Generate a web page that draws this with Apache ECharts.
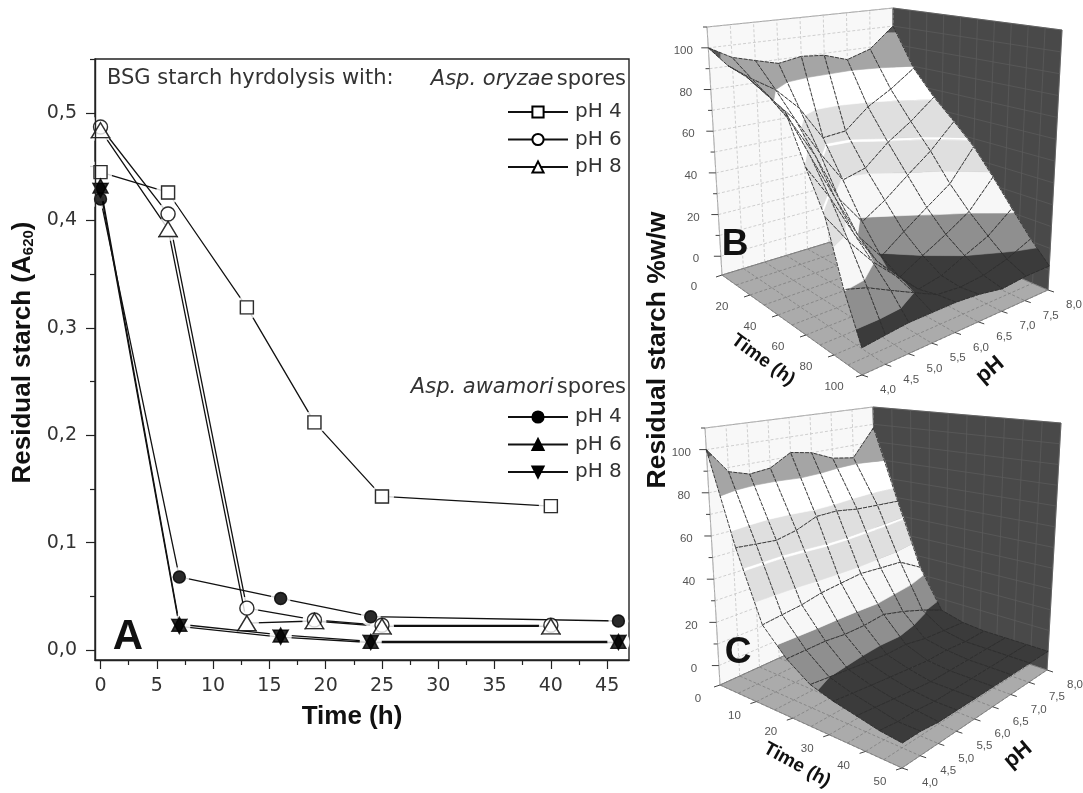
<!DOCTYPE html>
<html><head><meta charset="utf-8">
<style>html,body{margin:0;padding:0;background:#fff}#c{width:1083px;height:793px}</style>
<script src="https://cdn.jsdelivr.net/npm/echarts@6/dist/echarts.min.js"></script>
</head><body><div id="c"></div>
<script>
// ---------- Panel A data ----------
const xMajor = [0,5,10,15,20,25,30,35,40,45];
const xMinor = [2.5,7.5,12.5,17.5,22.5,27.5,32.5,37.5,42.5];
const yMajor = [0,0.1,0.2,0.3,0.4,0.5];
const yMinor = [0.05,0.15,0.25,0.35,0.45,0.55];
const oryzaeTimeA = [0,6,13,19,25,40];
const oryzaePH4 = [0.445,0.426,0.319,0.212,0.143,0.134];
const oryzaePH6 = [0.487,0.406,0.039,0.028,0.023,0.023];
const oryzaePH8 = [0.484,0.392,0.025,0.027,0.022,0.022];
const awamoriTime = [0,7,16,24,46];
const awamoriPH4 = [0.420,0.068,0.048,0.031,0.027];
const awamoriPH6 = [0.432,0.024,0.014,0.008,0.008];
const awamoriPH8 = [0.428,0.022,0.012,0.007,0.007];

// ---------- Panels B and C data ----------
const phNodes = [4,4.5,5,5.5,6,6.5,7,7.5,8];
const timeB = [0,12.5,25,37.5,50,62.5,75,87.5,100];
const timeC = [0,6.25,12.5,18.75,25,31.25,37.5,43.75,50];
const surfaceB = [ // one row per pH node, one value per time node
 [100,95,93,89,84,64,47,21,2],
 [94,87,81,74,62,48,33,18,3],
 [91,80,69,56,41,29,21,13,4],
 [88,69,51,33,20,13,11,8,4],
 [90,52,35,19,7,2,1,3,4],
 [89,53,38,26,15,8,3,2,3],
 [85,63,48,35,23,14,8,3,1],
 [89,70,56,44,31,21,13,6,2],
 [100,79,66,56,46,34,22,11,2]
];
const surfaceC = [
 [100,58,27,16,9,6,4,2,1],
 [88,57,28,16,8,5,3,1,1],
 [85,56,29,16,7,4,2,1,0],
 [86,58,31,15,6,3,1,0,0],
 [92,62,32,15,5,2,0,0,0],
 [90,62,33,16,5,1,0,0,0],
 [85,60,32,13,3,1,0,0,0],
 [83,59,31,9,2,0,0,0,0],
 [98,58,24,4,1,0,0,0,0]
];
const zTicks = [0,20,40,60,80,100];
const timeTicksB = [0,20,40,60,80,100];
const timeTicksC = [0,10,20,30,40,50];
const phTicks = [4,4.5,5,5.5,6,6.5,7,7.5,8];
const zRange = [-9,110];
// contour bands: [low, high, grey level]
const bands = [
 [-50,8,'#3b3b3b'],[8,20.5,'#8f8f8f'],[20.5,36,'#f7f7f7'],[36,48.6,'#dfdfdf'],
 [48.6,49.6,'#ffffff'],[49.6,65,'#dfdfdf'],[65,80,'#ffffff'],[80,97,'#a5a5a5'],[97,200,'#555555']
];

const SANS = '"Liberation Sans", Arial, sans-serif';
const THIN = '"DejaVu Sans", sans-serif';
const INK = '#333';

// ---------- 3D box helper ----------
function mix(p,q,s){return [p[0]+(q[0]-p[0])*s,p[1]+(q[1]-p[1])*s];}
function boxProject(box,u,v,c){
  const low = mix(mix(box.L,box.F,u),mix(box.K,box.R,u),v);
  const high = mix(mix(box.Lt,box.Ft,u),mix(box.Kt,box.Rt,u),v);
  return mix(low,high,c);
}
function zFrac(z){return (z-zRange[0])/(zRange[1]-zRange[0]);}
function clipBand(poly,lo,hi){
  function cut(list,keep,level){
    const out=[];
    for(let i=0;i<list.length;i++){
      const p=list[i],q=list[(i+1)%list.length];
      const pk=keep(p[2]),qk=keep(q[2]);
      if(pk)out.push(p);
      if(pk!==qk){const s=(level-p[2])/(q[2]-p[2]);out.push([p[0]+(q[0]-p[0])*s,p[1]+(q[1]-p[1])*s,level]);}
    }
    return out;
  }
  let r=cut(poly,z=>z>=lo,lo);
  if(r.length)r=cut(r,z=>z<=hi,hi);
  return r;
}
function panel(cfg){
  const times=cfg.times, Z=cfg.Z, box=cfg.box;
  const tMax=times[times.length-1], pMin=phNodes[0], pMax=phNodes[phNodes.length-1];
  const frac=(api)=>{
    const o=api.coord([0,pMin]), e=api.coord([tMax,pMax]);
    return (t,p)=>{const q=api.coord([t,p]);return [(q[0]-o[0])/(e[0]-o[0]),(q[1]-o[1])/(e[1]-o[1])];};
  };
  const cellData=[];
  for(let i=0;i<times.length-1;i++)for(let j=phNodes.length-2;j>=0;j--)cellData.push([times[i],phNodes[j],i,j]);
  const walls={
    type:'custom',xAxisIndex:cfg.axis,yAxisIndex:cfg.axis,silent:true,animation:false,z:5,
    data:[[0,pMin]],
    renderItem(params,api){
      const f=frac(api), kids=[];
      const P=(t,p,z)=>{const q=f(t,p);return boxProject(box,q[0],q[1],zFrac(z));};
      const zb=zRange[0], zt=zRange[1];
      const poly=(pts,fill)=>kids.push({type:'polygon',shape:{points:pts},style:{fill,stroke:'#666',lineWidth:0.6}});
      const line=(a,b,stroke,w,dash)=>kids.push({type:'line',shape:{x1:a[0],y1:a[1],x2:b[0],y2:b[1]},style:{stroke,lineWidth:w,lineDash:dash||null}});
      poly([P(0,pMin,zb),P(0,pMax,zb),P(0,pMax,zt),P(0,pMin,zt)],'#f8f8f8');
      poly([P(0,pMax,zb),P(tMax,pMax,zb),P(tMax,pMax,zt),P(0,pMax,zt)],'#494949');
      poly([P(0,pMin,zb),P(tMax,pMin,zb),P(tMax,pMax,zb),P(0,pMax,zb)],'#ababab');
      for(const p of phTicks){
        line(P(0,p,zb),P(0,p,zt),'#c4c4c4',0.8,[3,2]);
        line(P(0,p,zb),P(tMax,p,zb),'#7f7f7f',0.8,[3,2]);
      }
      for(const t of cfg.timeTicks){
        const st=cfg.timeTicks[1]/2;
        line(P(t,pMax,zb),P(t,pMax,zt),'#5a5a5a',0.8);
        line(P(t,pMin,zb),P(t,pMax,zb),'#7f7f7f',0.8,[3,2]);
        if(t+st<=tMax){line(P(t+st,pMax,zb),P(t+st,pMax,zt),'#5a5a5a',0.8);line(P(t+st,pMin,zb),P(t+st,pMax,zb),'#7f7f7f',0.8,[3,2]);}
      }
      for(let z=0;z<=110;z+=10){
        if(zFrac(z)>1)continue;
        line(P(0,pMin,z),P(0,pMax,z),'#c4c4c4',0.8,[3,2]);
        line(P(0,pMax,z),P(tMax,pMax,z),'#5a5a5a',0.8);
        const a=P(0,pMin,z);
        line(a,[a[0]-(z%20===0?7:4),a[1]],'#444',1);
      }
      const label=(text,pos)=>kids.push({type:'text',style:{text,x:pos[0],y:pos[1],font:'11.5px '+SANS,fill:'#555',align:'center',verticalAlign:'middle'}});
      for(const z of zTicks){const a=P(0,pMin,z);label(String(z),[a[0]-25,a[1]+3]);}
      for(const t of cfg.timeTicks){
        const a=P(t,pMin,zb);
        line(a,[a[0]-6,a[1]+2],'#444',1);
        label(String(t),[a[0]+cfg.timeOffset[0],a[1]+cfg.timeOffset[1]]);
      }
      for(const p of phTicks){
        const a=P(tMax,p,zb);
        line(a,[a[0]+6,a[1]+2],'#444',1);
        label(p.toFixed(1).replace('.',','),[a[0]+cfg.phOffset[0],a[1]+cfg.phOffset[1]]);
      }
      return {type:'group',children:kids};
    }
  };
  const cells={
    type:'custom',xAxisIndex:cfg.axis,yAxisIndex:cfg.axis,silent:true,animation:false,z:6,
    data:cellData,
    renderItem(params,api){
      const f=frac(api), i=api.value(2), j=api.value(3), kids=[];
      const corner=(a,b)=>{const q=f(times[a],phNodes[b]);return [q[0],q[1],Z[b][a]];};
      const quad=[corner(i,j),corner(i+1,j),corner(i+1,j+1),corner(i,j+1)];
      const toScreen=q=>boxProject(box,q[0],q[1],zFrac(q[2]));
      for(const b of bands){
        const piece=clipBand(quad,b[0],b[1]);
        if(piece.length>2)kids.push({type:'polygon',shape:{points:piece.map(toScreen)},style:{fill:b[2],stroke:b[2],lineWidth:0.6}});
      }
      kids.push({type:'polygon',shape:{points:quad.map(toScreen)},style:{fill:'none',stroke:'#2e2e2e',lineWidth:0.9,lineDash:[4,1.2]}});
      return {type:'group',children:kids};
    }
  };
  return [walls,cells];
}

const boxB={L:[722,275],F:[862,375],R:[1048,290],K:[893,223],Lt:[707,27],Ft:[861,80],Rt:[1062,30],Kt:[893,8]};
const boxC={L:[720,685],F:[902,768],R:[1047,670],K:[878,613],Lt:[705,428],Ft:[906,470],Rt:[1061,423],Kt:[873,407]};

// ---------- Panel A series (line, white gap round the marker, marker) ----------
function curve(name,times,values,symbol,filled,rotate,z,size,gap){
  const pts=times.map((t,i)=>[t,values[i]]);
  const color=filled?'#000':'#fff';
  const base={xAxisIndex:0,yAxisIndex:0,animation:false,silent:true,symbol,symbolRotate:rotate,data:pts};
  return [
   Object.assign({},base,{type:'line',name,z,clip:false,symbolSize:size,showAllSymbol:true,lineStyle:{color:'#111',width:1.3},itemStyle:{color,borderColor:'#000',borderWidth:1.4}}),
   Object.assign({},base,{type:'scatter',z:z+0.1,clip:true,symbol:'circle',symbolSize:gap,itemStyle:{color:'#fff',borderWidth:0}}),
   Object.assign({},base,{type:'scatter',z:z+10,clip:false,symbolSize:size,itemStyle:{color,borderColor:'#000',borderWidth:1.4}})
  ];
}
const N1=['pH 4 Asp. oryzae','pH 6 Asp. oryzae','pH 8 Asp. oryzae'];
const N2=['pH 4 Asp. awamori','pH 6 Asp. awamori','pH 8 Asp. awamori'];
const seriesA=[].concat(
  curve(N1[0],oryzaeTimeA,oryzaePH4,'rect',false,0,2,13,24),
  curve(N1[1],oryzaeTimeA,oryzaePH6,'circle',false,0,3,14,23),
  curve(N1[2],oryzaeTimeA,oryzaePH8,'triangle',false,0,4,[18,15],24),
  curve(N2[0],awamoriTime,awamoriPH4,'circle',true,0,5,12,20),
  curve(N2[1],awamoriTime,awamoriPH6,'triangle',true,0,6,[15,14],22),
  curve(N2[2],awamoriTime,awamoriPH8,'triangle',true,180,7,[15,14],22)
);
function legendBlock(names,top){
  return {data:names,orient:'vertical',left:502,top,itemWidth:60,itemHeight:14,itemGap:7.5,selectedMode:false,
    formatter:n=>n.slice(0,4),textStyle:{fontFamily:THIN,fontSize:20,color:INK,padding:[0,0,0,2]}};
}
function hiddenAxis(min,max){return {type:'value',min,max,show:false};}

const grids=[
  {left:95,top:59,width:534,height:601,show:true,borderColor:'#222',borderWidth:1.4,backgroundColor:'transparent'},
  {left:700,top:20,width:100,height:100,show:false},
  {left:700,top:420,width:100,height:100,show:false}
];
const option={
  backgroundColor:'#fff',animation:false,
  grid:grids,
  legend:[legendBlock(N1,97),legendBlock(N2,402)],
  xAxis:[
   {type:'value',gridIndex:0,min:-0.49,max:46.94,position:'bottom',z:30,splitLine:{show:false},
    name:'Time (h)',nameLocation:'middle',nameGap:44,nameTextStyle:{fontFamily:SANS,fontWeight:'bold',fontSize:26,color:'#111',padding:[0,20,0,0]},
    axisLine:{onZero:false,lineStyle:{color:'#222',width:1.4}},
    axisTick:{length:9,inside:false,customValues:xMajor,lineStyle:{color:'#222',width:1.2}},
    axisLabel:{customValues:xMajor,fontFamily:THIN,fontSize:19,color:INK,margin:17}},
   {type:'value',gridIndex:0,min:-0.49,max:46.94,position:'bottom',splitLine:{show:false},
    axisLine:{show:false,onZero:false},axisTick:{length:5,customValues:xMinor,lineStyle:{color:'#222',width:1.2}},
    axisLabel:{show:false}},
   Object.assign(hiddenAxis(0,100),{gridIndex:1}),
   Object.assign(hiddenAxis(0,50),{gridIndex:2})
  ],
  yAxis:[
   {type:'value',gridIndex:0,min:-0.0093,max:0.5503,position:'left',z:30,splitLine:{show:false},
    name:'{m|Residual starch (A}{s|620}{m|)}',nameLocation:'middle',nameGap:59,
    nameTextStyle:{padding:[0,0,0,14],rich:{m:{fontFamily:SANS,fontWeight:'bold',fontSize:26,color:'#111'},s:{fontFamily:SANS,fontWeight:'bold',fontSize:15,color:'#111',verticalAlign:'bottom',padding:[10,0,0,0]}}},
    axisLine:{onZero:false,lineStyle:{color:'#222',width:1.4}},
    axisTick:{length:9,customValues:yMajor,lineStyle:{color:'#222',width:1.2}},
    axisLabel:{customValues:yMajor,formatter:v=>v.toFixed(1).replace('.',','),fontFamily:THIN,fontSize:19,color:INK,margin:18}},
   {type:'value',gridIndex:0,min:-0.0093,max:0.5503,position:'left',splitLine:{show:false},
    axisLine:{show:false,onZero:false},axisTick:{length:5,customValues:yMinor,lineStyle:{color:'#222',width:1.2}},
    axisLabel:{show:false}},
   Object.assign(hiddenAxis(4,8),{gridIndex:1}),
   Object.assign(hiddenAxis(4,8),{gridIndex:2})
  ],
  series:[].concat(
    seriesA,
    panel({axis:2,times:timeB,Z:surfaceB,box:boxB,timeTicks:timeTicksB,timeOffset:[-28,12],phOffset:[26,15]}),
    panel({axis:3,times:timeC,Z:surfaceC,box:boxC,timeTicks:timeTicksC,timeOffset:[-22,14],phOffset:[28,15]})
  ),
  graphic:[
    {type:'text',z:40,x:107,y:79,style:{text:'BSG starch hyrdolysis with:',font:'21px '+THIN,fill:INK,verticalAlign:'middle'}},
    {type:'text',z:40,x:626,y:80,style:{text:'{i|Asp. oryzae} {n|spores}',align:'right',verticalAlign:'middle',rich:{i:{font:'italic 21px '+THIN,fill:INK},n:{font:'21px '+THIN,fill:INK}}}},
    {type:'text',z:40,x:626,y:388,style:{text:'{i|Asp. awamori} {n|spores}',align:'right',verticalAlign:'middle',rich:{i:{font:'italic 21px '+THIN,fill:INK},n:{font:'21px '+THIN,fill:INK}}}},
    {type:'text',z:40,x:128,y:637,style:{text:'A',font:'bold 42px '+SANS,fill:'#111',align:'center',verticalAlign:'middle'}},
    {type:'text',z:40,x:735,y:245,style:{text:'B',font:'bold 37px '+SANS,fill:'#111',align:'center',verticalAlign:'middle',shadowColor:'#999',shadowBlur:2,shadowOffsetX:2,shadowOffsetY:2}},
    {type:'text',z:40,x:738,y:653,style:{text:'C',font:'bold 37px '+SANS,fill:'#111',align:'center',verticalAlign:'middle',shadowColor:'#999',shadowBlur:2,shadowOffsetX:2,shadowOffsetY:2}},
    {type:'text',z:40,x:658,y:350,rotation:-Math.PI/2*3,style:{text:'Residual starch %w/w',font:'bold 26.5px '+SANS,fill:'#111',align:'center',verticalAlign:'middle'}},
    {type:'text',z:40,x:763,y:360,rotation:-36*Math.PI/180,style:{text:'Time (h)',font:'bold 19px '+SANS,fill:'#111',align:'center',verticalAlign:'middle'}},
    {type:'text',z:40,x:990,y:370,rotation:40*Math.PI/180,style:{text:'pH',font:'bold 22px '+SANS,fill:'#111',align:'center',verticalAlign:'middle'}},
    {type:'text',z:40,x:797,y:765,rotation:-29*Math.PI/180,style:{text:'Time (h)',font:'bold 19px '+SANS,fill:'#111',align:'center',verticalAlign:'middle'}},
    {type:'text',z:40,x:1018,y:755,rotation:40*Math.PI/180,style:{text:'pH',font:'bold 22px '+SANS,fill:'#111',align:'center',verticalAlign:'middle'}}
  ]
};
echarts.init(document.getElementById('c'),null,{renderer:'canvas'}).setOption(option);
</script></body></html>
